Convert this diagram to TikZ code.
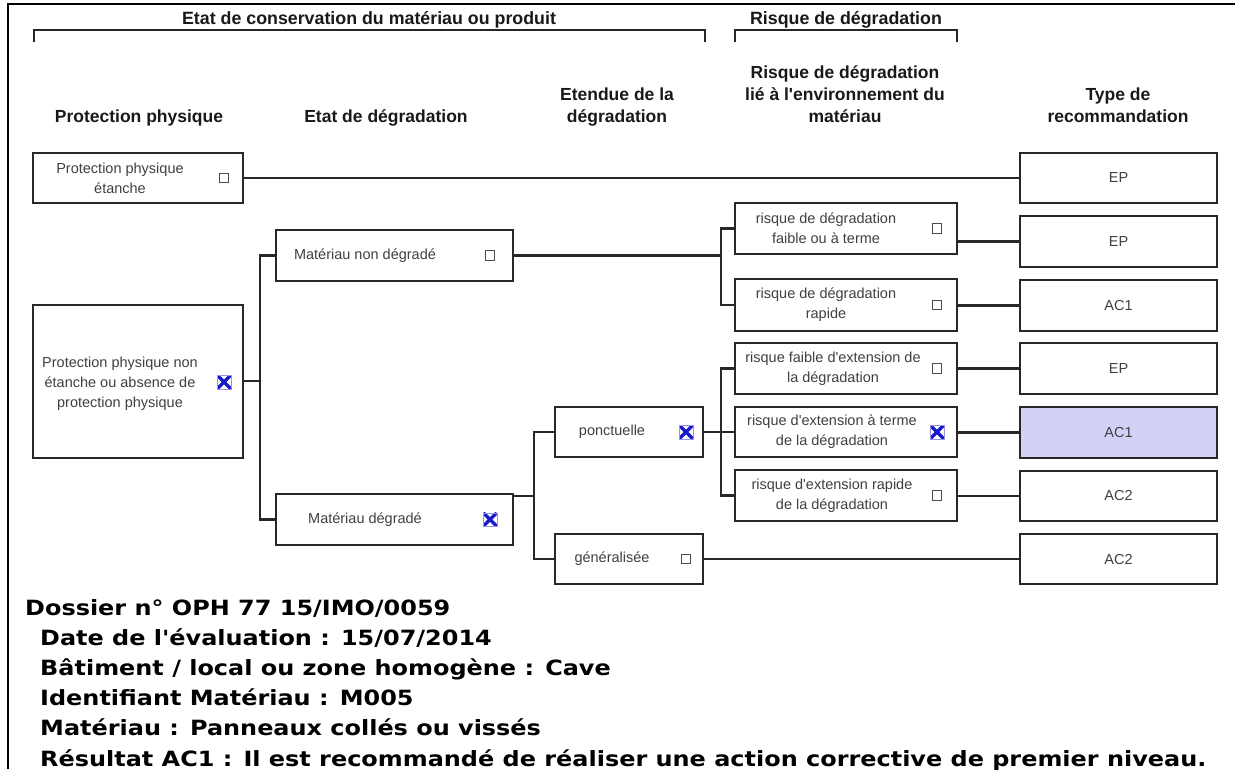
\documentclass[tikz,border=0pt]{standalone}
\usepackage{fontspec}
\setmainfont{Liberation Sans}[Ligatures=TeXOff]
\newfontfamily\verdfont{DejaVu Sans}[FakeStretch=1.14]
\usepackage{xcolor}
\definecolor{boxline}{RGB}{40,40,40}
\definecolor{selfill}{RGB}{210,210,248}
\definecolor{xblue}{RGB}{25,25,205}

\begin{document}
\begin{tikzpicture}[
    x=1pt, y=-1pt,
    box/.style={rectangle, draw=boxline, line width=2.2pt, fill=white, inner sep=0pt, text=black!75, font=\fontsize{14.5}{20}\selectfont},
    txt/.style={align=center, text=black!75, font=\fontsize{14.5}{20}\selectfont, inner sep=0pt},
    head/.style={align=center, text=black!90, font=\bfseries\fontsize{17.5}{22}\selectfont, inner sep=0pt, anchor=base},
    chk/.style={rectangle, draw=black!70, fill=white, line width=1.1pt, minimum size=9.5pt, inner sep=0pt},
    xchk/.style={rectangle, draw=xblue!45, line width=0.5pt, minimum size=13.5pt, inner sep=0pt,
        path picture={\draw[xblue, line width=3.4pt] (path picture bounding box.south west) -- (path picture bounding box.north east)
            (path picture bounding box.north west) -- (path picture bounding box.south east);}},
    link/.style={draw=boxline, line width=2.2pt},
    info/.style={anchor=base west, inner sep=0pt, font=\verdfont\bfseries\fontsize{21}{30}\selectfont}
]
    \useasboundingbox (0,0) rectangle (1235,769);
    \fill[white] (0,0) rectangle (1235,769);

    % cadre
    \draw[line width=2.4pt] (1235,4) -- (8,4) -- (8,769);

    % titres et accolades
    \node[head, font=\bfseries\fontsize{17.8}{20}\selectfont] (ttl1) at (369,24) {Etat de conservation du matériau ou produit};
    \node[head, font=\bfseries\fontsize{17.8}{20}\selectfont] (ttl2) at (846,24) {Risque de dégradation};
    \draw[line width=1.6pt, black!85] (34,42) -- (34,30) -- (705,30) -- (705,42);
    \draw[line width=1.6pt, black!85] (735,42) -- (735,30) -- (957,30) -- (957,42);

    % en-tetes de colonnes
    \node[head] (h1) at (139,122) {Protection physique};
    \node[head] (h2) at (386,122) {Etat de dégradation};
    \node[head] (h3) at (617,122) {Etendue de la\\dégradation};
    \node[head] (h4) at (845,122) {Risque de dégradation\\lié à l'environnement du\\matériau};
    \node[head] (h5) at (1118,122) {Type de\\recommandation};

    % protection physique
    \node[box, minimum width=210, minimum height=50] (pe) at (138,178) {};
    \node[txt] (pe-t) at (120,178) {Protection physique\\étanche};
    \node[chk] (pe-c) at (224,178) {};
    \node[box, minimum width=210, minimum height=153] (pn) at (138,381.5) {};
    \node[txt] (pn-t) at (120,384) {Protection physique non\\étanche ou absence de\\protection physique};
    \node[xchk] (pn-c) at (224,382) {};

    % etat de degradation
    \node[box, minimum width=237, minimum height=51] (mnd) at (394.5,255.5) {};
    \node[txt] (mnd-t) at (365,255.5) {Matériau non dégradé};
    \node[chk] (mnd-c) at (490,255.5) {};
    \node[box, minimum width=237, minimum height=51] (md) at (394.5,519.5) {};
    \node[txt] (md-t) at (365,519.5) {Matériau dégradé};
    \node[xchk] (md-c) at (490,519.5) {};

    % etendue
    \node[box, minimum width=148, minimum height=50] (pon) at (629,432) {};
    \node[txt] (pon-t) at (612,432) {ponctuelle};
    \node[xchk] (pon-c) at (686,432) {};
    \node[box, minimum width=148, minimum height=50] (gen) at (629,559) {};
    \node[txt] (gen-t) at (612,559) {généralisée};
    \node[chk] (gen-c) at (686,559) {};

    % risque
    \node[box, minimum width=222, minimum height=51] (r1) at (846,228.5) {};
    \node[txt] (r1-t) at (826,228.5) {risque de dégradation\\faible ou à terme};
    \node[chk] (r1-c) at (937,228.5) {};
    \node[box, minimum width=222, minimum height=52] (r2) at (846,305) {};
    \node[txt] (r2-t) at (826,305) {risque de dégradation\\rapide};
    \node[chk] (r2-c) at (937,305) {};
    \node[box, minimum width=222, minimum height=51] (r3) at (846,368.5) {};
    \node[txt] (r3-t) at (833,368.5) {risque faible d'extension de\\la dégradation};
    \node[chk] (r3-c) at (937,368.5) {};
    \node[box, minimum width=222, minimum height=50] (r4) at (846,432) {};
    \node[txt] (r4-t) at (832,432) {risque d'extension à terme\\de la dégradation};
    \node[xchk] (r4-c) at (937,432) {};
    \node[box, minimum width=222, minimum height=51] (r5) at (846,495.5) {};
    \node[txt] (r5-t) at (832,495.5) {risque d'extension rapide\\de la dégradation};
    \node[chk] (r5-c) at (937,495.5) {};

    % type de recommandation
    \node[box, minimum width=197, minimum height=50] (t1) at (1118.5,178) {EP};
    \node[box, minimum width=197, minimum height=51] (t2) at (1118.5,241.5) {EP};
    \node[box, minimum width=197, minimum height=51] (t3) at (1118.5,305.5) {AC1};
    \node[box, minimum width=197, minimum height=51] (t4) at (1118.5,368.5) {EP};
    \node[box, minimum width=197, minimum height=51, fill=selfill] (t5) at (1118.5,432.5) {AC1};
    \node[box, minimum width=197, minimum height=50] (t6) at (1118.5,496) {AC2};
    \node[box, minimum width=197, minimum height=50] (t7) at (1118.5,559) {AC2};

    % liaisons
    \coordinate (j1) at (260,381);
    \coordinate (j2) at (721,255.5);
    \coordinate (j3) at (534,496);
    \coordinate (j4) at (721,432);
    \draw[link] (pe) -- (t1);
    \draw[link] (pn.east |- j1) -- (j1);
    \draw[link] (mnd.west) -| (j1);
    \draw[link] (md.west) -| (j1);
    \draw[link] (mnd.east) -- (j2);
    \draw[link] (r1.west) -| (j2);
    \draw[link] (r2.west) -| (j2);
    \draw[link] (md.east |- j3) -- (j3);
    \draw[link] (pon.west) -| (j3);
    \draw[link] (gen.west) -| (j3);
    \draw[link] (pon.east) -- (j4);
    \draw[link] (r3.west) -| (j4);
    \draw[link] (r4.west) -- (j4);
    \draw[link] (r5.west) -| (j4);
    \draw[link] (t2.west -| r1.east) -- (t2.west);
    \draw[link] (t3.west -| r2.east) -- (t3.west);
    \draw[link] (t4.west -| r3.east) -- (t4.west);
    \draw[link] (t5.west -| r4.east) -- (t5.west);
    \draw[link] (t6.west -| r5.east) -- (t6.west);
    \draw[link] (gen.east) -- (gen.east -| t7.west);

    % informations
    \node[info] (inf1) at (25,615) {Dossier n° OPH 77 15/IMO/0059};
    \node[info] (inf2) at (40,645) {Date de l'évaluation : 15/07/2014};
    \node[info] (inf3) at (40,675) {Bâtiment / local ou zone homogène : Cave};
    \node[info] (inf4) at (40,705) {Identifiant Matériau : M005};
    \node[info] (inf5) at (40,735) {Matériau : Panneaux collés ou vissés};
    \node[info] (inf6) at (40,766) {Résultat AC1 : Il est recommandé de réaliser une action corrective de premier niveau.};
\end{tikzpicture}
\end{document}
